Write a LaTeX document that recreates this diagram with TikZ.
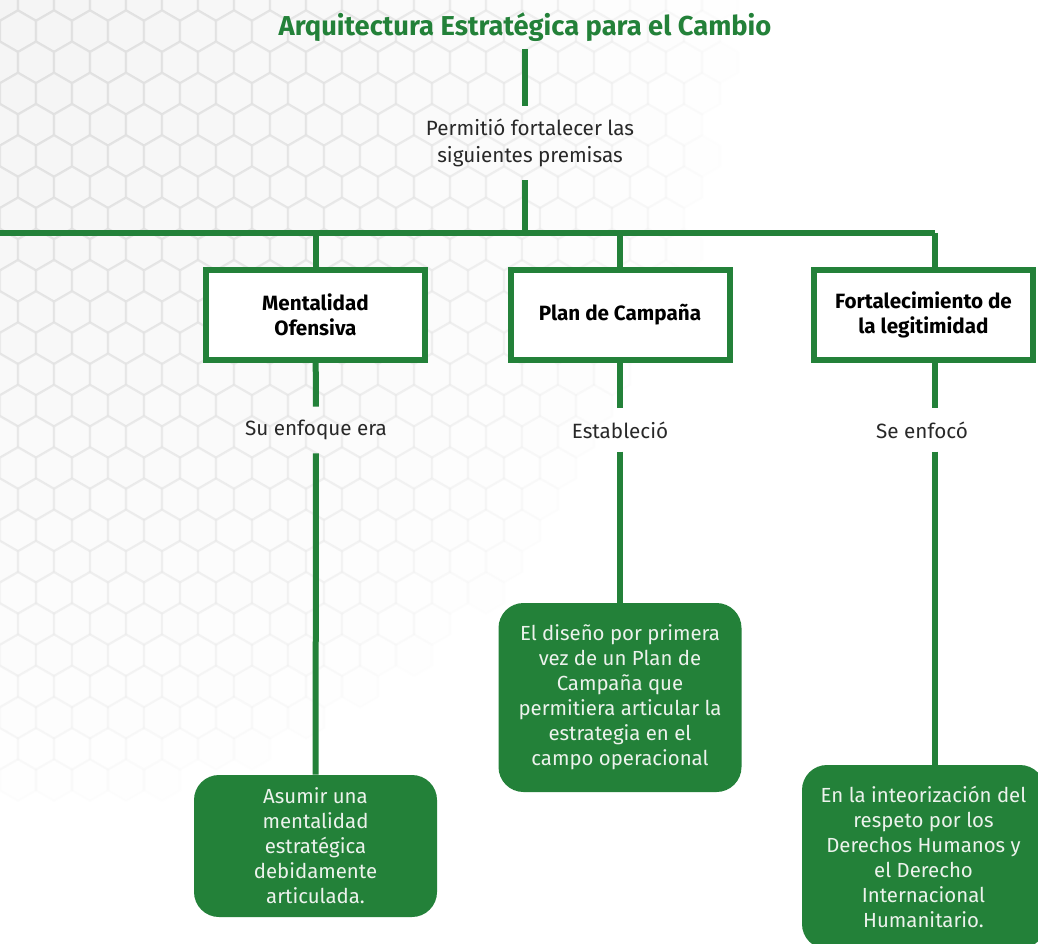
\documentclass[tikz,border=0pt]{standalone}
\usepackage{fontspec}
\setmainfont{Fira Sans}
\usetikzlibrary{positioning,calc}

\definecolor{verde}{RGB}{35,129,57}
\definecolor{texto}{RGB}{40,40,40}
\definecolor{textoclaro}{RGB}{236,242,236}

\begin{document}
\begin{tikzpicture}[x=0.75pt,y=-0.75pt,
  link/.style={draw=verde,line width=4.5pt},
  title/.style={text=verde,font=\bfseries\fontsize{20.5}{24}\selectfont,inner sep=0pt,outer sep=6pt},
  caption/.style={text=texto,font=\fontsize{15.5}{20}\selectfont,align=center,inner sep=0pt,outer sep=10pt},
  premisebox/.style={draw=verde,line width=4.5pt,fill=white,minimum width=164.25pt,minimum height=67.5pt,
    align=center,text=black,font=\bfseries\fontsize{15.5}{18.5}\selectfont},
  resultbox/.style={fill=verde,rounded corners=18.75pt,align=center,text=textoclaro,
    font=\fontsize{15.3}{18.75}\selectfont,minimum width=182.25pt},
  hexcell/.style={fill=gray!9,draw=gray!24,line width=1.6pt}]

\clip (0,0) rectangle (1038,944);
\fill[white] (0,0) rectangle (1038,944);

%Hexagon grid fading out from the top left corner
\foreach \r in {0,...,30}{
  \foreach \c in {0,...,24}{
    \pgfmathsetmacro\hx{\c*36+mod(\r,2)*18}
    \pgfmathsetmacro\hy{\r*31.2}
    \pgfmathsetmacro\ho{max(0,0.95-veclen(\hx,\hy*0.9)/780)}
    \ifdim\ho pt>0.02pt
      \draw[hexcell,opacity=\ho] (\hx,\hy) +(90:20.8) -- +(150:20.8) -- +(210:20.8)
        -- +(270:20.8) -- +(330:20.8) -- +(30:20.8) -- cycle;
    \fi
  }
}

%Title and first premise
\node[title] (titulo) at (525,27) {Arquitectura Estratégica para el Cambio};
\node[caption] (premisas) at (530,143) {Permitió fortalecer las\\siguientes premisas};

%Bus line
\coordinate (bus) at (525,233);
\coordinate (busL) at (0,233);
\coordinate (busR) at (935,233);
\coordinate (drop3) at (935,0);

%Three premises
\node[premisebox] (mentalidad) at (315.5,315) {Mentalidad\\Ofensiva};
\node[premisebox] (plan) at (620,315) {Plan de Campaña};
\node[premisebox] (legitimidad) at (923.5,315) {Fortalecimiento de\\la legitimidad};

\node[caption] (enfoque) at (316,430) {Su enfoque era};
\node[caption] (establecio) at (620,430) {Estableció};
\node[caption] (enfoco) at (922,430) {Se enfocó};

\node[resultbox,minimum height=106.5pt] (asumir) at (315.5,846)
  {Asumir una\\mentalidad\\estratégica\\debidamente\\articulada.};
\node[resultbox,minimum height=141.75pt] (diseno) at (620,697.5)
  {El diseño por primera\\vez de un Plan de\\Campaña que\\permitiera articular la\\estrategia en el\\campo operacional};
\node[resultbox,minimum height=138pt] (respeto) at (923.5,857)
  {En la inteorización del\\respeto por los\\Derechos Humanos y\\el Derecho\\Internacional\\Humanitario.};

%Connectors
\draw[link] (titulo) -- (titulo |- premisas.north);
\draw[link] (premisas.south -| bus) -- (bus);
\draw[link] (busL) -- (busR);
\draw[link] (mentalidad.north |- bus) -- (mentalidad);
\draw[link] (plan.north |- bus) -- (plan);
\draw[link] (busR) -- (legitimidad.north -| drop3);
\draw[link] (mentalidad) -- (enfoque);
\draw[link] (plan) -- (establecio);
\draw[link] (legitimidad.south -| drop3) -- (enfoco.north -| drop3);
\draw[link] (enfoque) -- (asumir);
\draw[link] (establecio) -- (diseno);
\draw[link] (enfoco.south -| drop3) -- (respeto.north -| drop3);

\end{tikzpicture}
\end{document}
